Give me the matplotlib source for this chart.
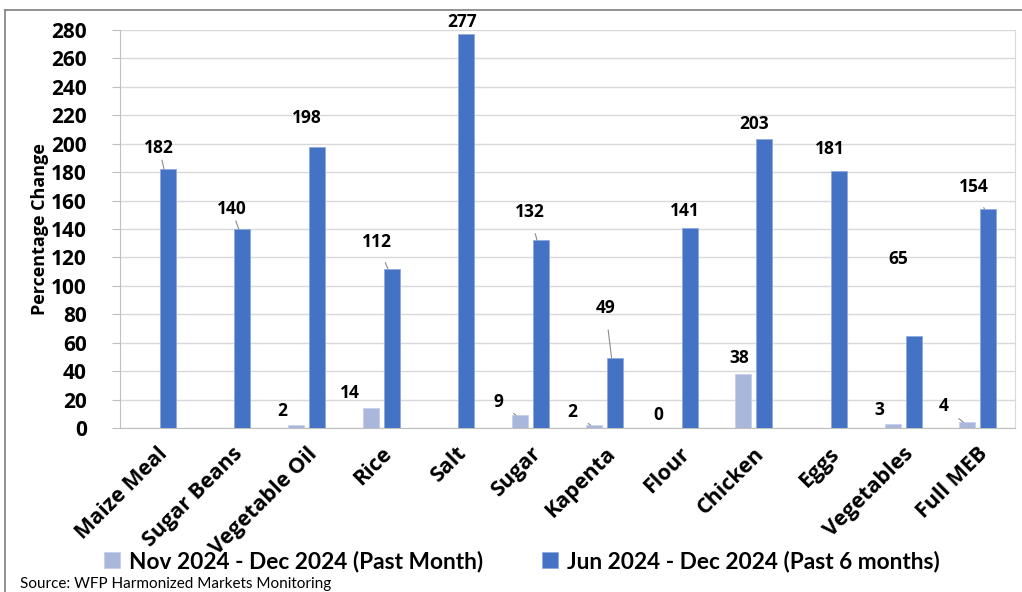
import numpy as np
import matplotlib
matplotlib.use("Agg")
import matplotlib.pyplot as plt
from matplotlib.lines import Line2D

# data
items = ['Maize Meal', 'Sugar Beans', 'Vegetable Oil', 'Rice', 'Salt', 'Sugar',
         'Kapenta', 'Flour', 'Chicken', 'Eggs', 'Vegetables', 'Full MEB']
past_month = [0, -0.5, 2, 14, -0.5, 9, 2, 0, 38, -0.5, 3, 4]
past_month_labels = [None, None, '2', '14', None, '9', '2', '0', '38', None, '3', '4']
past_6m = [182, 140, 198, 112, 277, 132, 49, 141, 203, 181, 65, 154]
past_6m_labels = ['182', '140', '198', '112', '277', '132', '49', '141', '203', '181', '65', '154']
yticks = list(range(0, 281, 20))

# label offsets in pixels (dx, dy) and whether a leader line shows
off_6m = [(-5, 21), (-7, 20), (-6, 29), (-11, 27), (0, 12), (-7, 28),
          (-6, 50), (-1, 17), (-7, 15), (-5, 22), (-12, 77), (-11, 22)]
lead_6m = [True, True, False, True, False, True, True, False, False, False, False, True]
off_1m = [(0, 0), (0, 0), (-10, 14), (-17, 15), (0, 0), (-18, 13),
          (-18, 13), (-7, 13), (0, 16), (0, 0), (-10, 14), (-20, 16)]
lead_1m = [False, False, False, False, False, True, True, False, False, False, False, True]

light = '#A9B7DD'
dark = '#4472C4'
fnt = 'Open Sans'

fig = plt.figure(figsize=(10.22, 5.92), dpi=100)
ax = fig.add_axes([120 / 1022, 1 - 428 / 592, (1015 - 120) / 1022, (428 - 30) / 592])

x = np.arange(len(items))
w = 0.215
off = 0.141
b1 = ax.bar(x - off, past_month, w, color=light, edgecolor='#C5D0EA', linewidth=0.6, zorder=3,
            label='Nov 2024 - Dec 2024 (Past Month)')
b2 = ax.bar(x + off, past_6m, w, color=dark, edgecolor='#8FAADC', linewidth=0.6, zorder=3,
            label='Jun 2024 - Dec 2024 (Past 6 months)')


def put_labels(bars, labels, offsets, leaders):
    for rect, lab, (dx, dy), lead in zip(bars, labels, offsets, leaders):
        if lab is None:
            continue
        xc = rect.get_x() + rect.get_width() / 2
        yt = max(rect.get_height(), 0)
        ap = None
        if lead:
            ap = dict(arrowstyle='-', color='#8C8C8C', lw=0.8, shrinkA=7, shrinkB=0)
        ax.annotate(lab, (xc - 0.05, yt), xytext=(dx, dy), textcoords='offset pixels',
                    ha='center', va='center', fontsize=12.5, fontweight='bold',
                    family=fnt, color='black', arrowprops=ap, zorder=5)


put_labels(b2, past_6m_labels, off_6m, lead_6m)
put_labels(b1, past_month_labels, off_1m, lead_1m)

ax.set_xlim(-0.5, len(items) - 0.5)
ax.set_ylim(0, 280)
ax.set_yticks(yticks)
ax.set_yticklabels([str(t) for t in yticks], fontsize=15, fontweight='bold', family=fnt)
ax.yaxis.grid(True, color='#D9D9D9', lw=1, zorder=0)
ax.set_axisbelow(True)
ax.tick_params(axis='y', length=6, color='#BFBFBF', pad=18)
ax.tick_params(axis='x', length=0, pad=11)
ax.set_xticks(x)
ax.set_xticklabels(items, rotation=45, ha='right', va='top', rotation_mode='anchor',
                   fontsize=15.5, fontweight='bold', family=fnt)
ax.set_ylabel('Percentage Change', fontsize=13, fontweight='bold', family=fnt)
ax.yaxis.set_label_coords(-(120 - 49) / 895, 0.5)

ax.spines['top'].set_visible(False)
ax.spines['left'].set_color('#BFBFBF')
ax.spines['right'].set_color('#D9D9D9')
ax.spines['bottom'].set_color('#BFBFBF')

leg = fig.legend(handles=[b1, b2], loc='center', bbox_to_anchor=(522 / 1022, 1 - 561 / 592),
                 ncol=2, frameon=False, handlelength=0.7, handleheight=0.7,
                 handletextpad=0.4, columnspacing=2.6,
                 prop=dict(family='Lato', weight='bold', size=16.3))

fig.text(20 / 1022, 1 - 584 / 592, 'Source: WFP Harmonized Markets Monitoring',
         fontsize=11, family='Lato', va='center', ha='left')

# outer frame (left and top edge)
fig.add_artist(Line2D([5 / 1022, 5 / 1022], [0, 1 - 10 / 592], color='#7F7F7F', lw=1.2,
                      transform=fig.transFigure))
fig.add_artist(Line2D([5 / 1022, 1], [1 - 10 / 592, 1 - 10 / 592], color='#7F7F7F', lw=1.2,
                      transform=fig.transFigure))

fig.savefig('out.png', dpi=100)
